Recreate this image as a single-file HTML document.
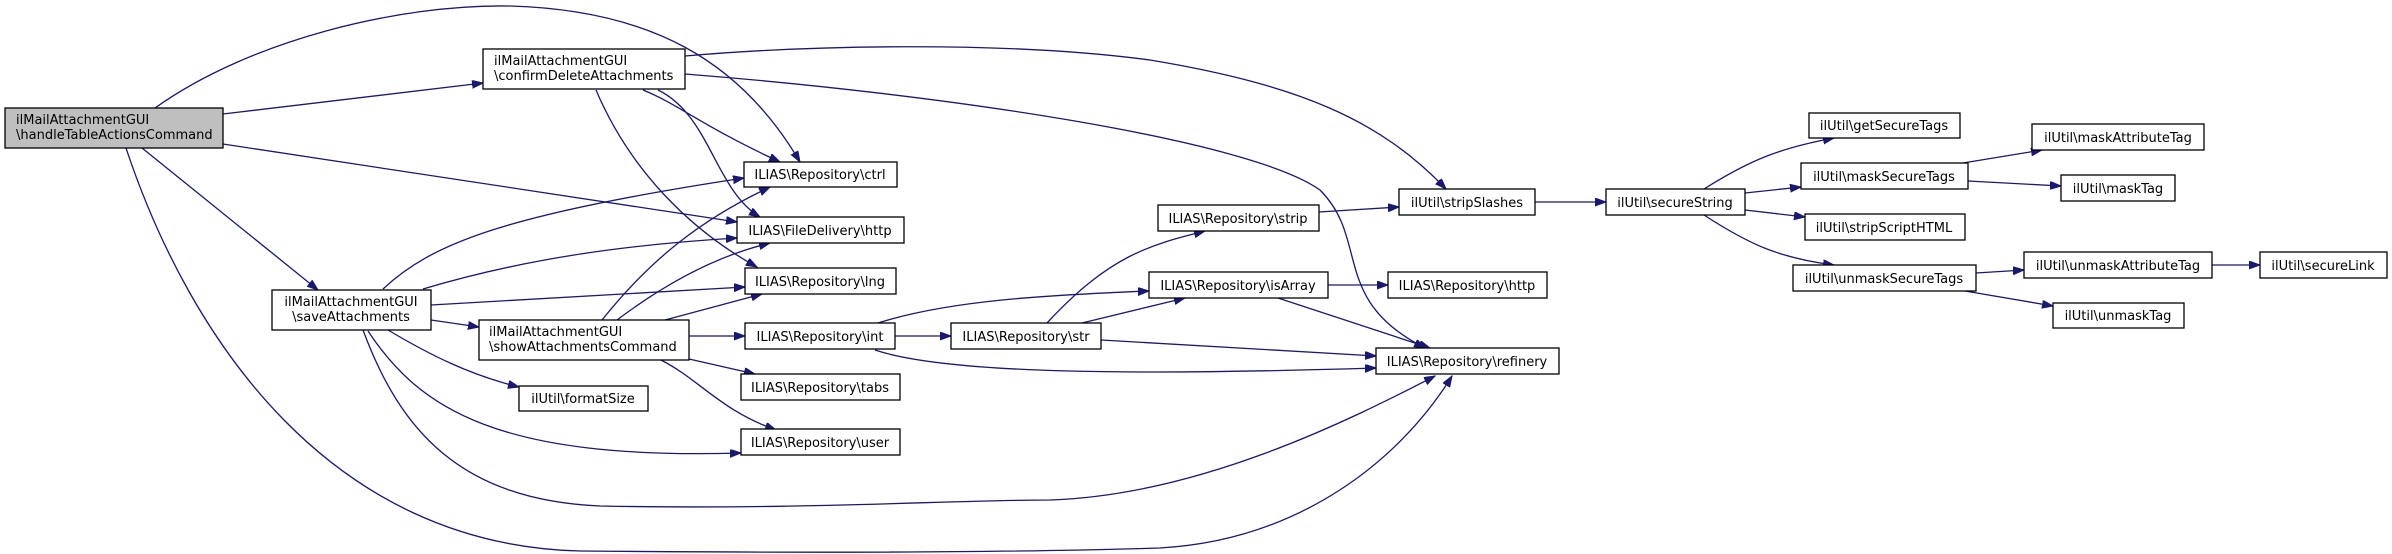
<!DOCTYPE html>
<html><head><meta charset="utf-8"><style>
html,body{margin:0;padding:0;background:#fff;}
svg{display:block;}
text{font-family:"DejaVu Sans","Liberation Sans",sans-serif;font-size:13px;fill:#000;}
.e{fill:none;stroke:#191970;stroke-width:1.3;marker-end:url(#a);}
.n{fill:#fff;stroke:#000;stroke-width:1.3;}
</style></head><body>
<svg width="2392" height="554" viewBox="0 0 2392 554" xmlns="http://www.w3.org/2000/svg">
<defs><marker id="a" markerUnits="userSpaceOnUse" markerWidth="12" markerHeight="10" refX="11" refY="4" orient="auto"><path d="M0,0 L11,4 L0,8 Z" fill="#191970" stroke="#191970"/></marker></defs>
<!-- edges -->
<path class="e" d="M155,108 C250,40 400,4 510,6 C650,10 740,60 800,162"/>
<path class="e" d="M223,114 L483,83"/>
<path class="e" d="M223,144 L737,222"/>
<path class="e" d="M142,148 L318,290"/>
<path class="e" d="M126,148 C190,340 330,545 580,551 C800,553 1000,553 1160,548 C1300,540 1400,460 1452,376"/>
<path class="e" d="M685,56 C800,46 1000,40 1150,60 C1300,85 1380,120 1446,189"/>
<path class="e" d="M685,74 C950,95 1250,140 1320,190 C1370,240 1330,300 1425,348"/>
<path class="e" d="M643,90 C680,105 700,125 780,162"/>
<path class="e" d="M658,90 C710,115 715,190 760,217"/>
<path class="e" d="M596,90 C630,170 690,230 757,267"/>
<path class="e" d="M383,289 C430,245 500,215 744,178"/>
<path class="e" d="M423,289 C520,260 620,245 737,238"/>
<path class="e" d="M431,305 L745,287"/>
<path class="e" d="M431,320 L479,327"/>
<path class="e" d="M388,330 C430,355 470,375 519,387"/>
<path class="e" d="M368,331 C420,410 500,460 741,453"/>
<path class="e" d="M363,330 C400,430 460,500 600,506 C800,510 950,500 1050,500 C1200,495 1350,420 1435,376"/>
<path class="e" d="M602,320 C650,260 700,220 770,187"/>
<path class="e" d="M617,320 C670,280 720,255 770,243"/>
<path class="e" d="M665,320 L762,294"/>
<path class="e" d="M689,336 L745,336"/>
<path class="e" d="M689,359 L755,374"/>
<path class="e" d="M661,360 C700,380 720,410 776,430"/>
<path class="e" d="M895,336 L951,336"/>
<path class="e" d="M878,323 C950,300 1050,295 1149,291"/>
<path class="e" d="M875,350 C950,375 1150,375 1376,368"/>
<path class="e" d="M1047,323 C1110,255 1150,245 1205,231"/>
<path class="e" d="M1082,323 L1185,298"/>
<path class="e" d="M1101,340 L1376,356"/>
<path class="e" d="M1319,212 L1399,207"/>
<path class="e" d="M1328,285 L1388,285"/>
<path class="e" d="M1278,298 L1430,348"/>
<path class="e" d="M1535,202 L1606,202"/>
<path class="e" d="M1704,189 C1750,160 1780,148 1834,138"/>
<path class="e" d="M1745,193 L1801,187"/>
<path class="e" d="M1745,210 L1805,217"/>
<path class="e" d="M1704,215 C1750,245 1780,258 1834,265"/>
<path class="e" d="M1963,163 L2042,150"/>
<path class="e" d="M1968,181 L2061,186"/>
<path class="e" d="M1976,273 L2024,270"/>
<path class="e" d="M1965,291 L2053,306"/>
<path class="e" d="M2212,265 L2260,265"/>
<!-- nodes -->
<rect x="5" y="108" width="218" height="40" fill="#bfbfbf" stroke="#000" stroke-width="1.3"/>
<text x="16" y="124">ilMailAttachmentGUI</text><text x="16" y="139">\handleTableActionsCommand</text>
<rect class="n" x="483" y="49" width="202" height="40"/>
<text x="494" y="65">ilMailAttachmentGUI</text><text x="494" y="80">\confirmDeleteAttachments</text>
<rect class="n" x="272" y="290" width="159" height="40"/>
<text x="351" y="306" text-anchor="middle">ilMailAttachmentGUI</text><text x="351" y="321" text-anchor="middle">\saveAttachments</text>
<rect class="n" x="479" y="320" width="210" height="40"/>
<text x="489" y="336">ilMailAttachmentGUI</text><text x="489" y="351">\showAttachmentsCommand</text>
<rect class="n" x="519" y="386" width="129" height="25"/><text x="583" y="403" text-anchor="middle">ilUtil\formatSize</text>
<rect class="n" x="744" y="162" width="153" height="25"/><text x="820" y="179" text-anchor="middle">ILIAS\Repository\ctrl</text>
<rect class="n" x="737" y="217" width="167" height="26"/><text x="820" y="235" text-anchor="middle">ILIAS\FileDelivery\http</text>
<rect class="n" x="745" y="268" width="151" height="26"/><text x="820" y="286" text-anchor="middle">ILIAS\Repository\lng</text>
<rect class="n" x="745" y="323" width="150" height="26"/><text x="820" y="341" text-anchor="middle">ILIAS\Repository\int</text>
<rect class="n" x="741" y="374" width="159" height="26"/><text x="820" y="392" text-anchor="middle">ILIAS\Repository\tabs</text>
<rect class="n" x="741" y="429" width="159" height="26"/><text x="820" y="447" text-anchor="middle">ILIAS\Repository\user</text>
<rect class="n" x="951" y="323" width="150" height="26"/><text x="1026" y="341" text-anchor="middle">ILIAS\Repository\str</text>
<rect class="n" x="1158" y="205" width="161" height="26"/><text x="1238" y="223" text-anchor="middle">ILIAS\Repository\strip</text>
<rect class="n" x="1149" y="272" width="179" height="26"/><text x="1238" y="290" text-anchor="middle">ILIAS\Repository\isArray</text>
<rect class="n" x="1388" y="272" width="159" height="26"/><text x="1467" y="290" text-anchor="middle">ILIAS\Repository\http</text>
<rect class="n" x="1376" y="348" width="183" height="26"/><text x="1467" y="366" text-anchor="middle">ILIAS\Repository\refinery</text>
<rect class="n" x="1399" y="189" width="136" height="26"/><text x="1467" y="207" text-anchor="middle">ilUtil\stripSlashes</text>
<rect class="n" x="1606" y="189" width="139" height="26"/><text x="1675" y="207" text-anchor="middle">ilUtil\secureString</text>
<rect class="n" x="1809" y="113" width="151" height="25"/><text x="1884" y="130" text-anchor="middle">ilUtil\getSecureTags</text>
<rect class="n" x="1801" y="163" width="167" height="26"/><text x="1884" y="181" text-anchor="middle">ilUtil\maskSecureTags</text>
<rect class="n" x="1805" y="214" width="160" height="26"/><text x="1884" y="232" text-anchor="middle">ilUtil\stripScriptHTML</text>
<rect class="n" x="1793" y="265" width="183" height="26"/><text x="1884" y="283" text-anchor="middle">ilUtil\unmaskSecureTags</text>
<rect class="n" x="2032" y="124" width="172" height="26"/><text x="2118" y="142" text-anchor="middle">ilUtil\maskAttributeTag</text>
<rect class="n" x="2061" y="175" width="114" height="26"/><text x="2118" y="193" text-anchor="middle">ilUtil\maskTag</text>
<rect class="n" x="2024" y="252" width="188" height="26"/><text x="2118" y="270" text-anchor="middle">ilUtil\unmaskAttributeTag</text>
<rect class="n" x="2260" y="252" width="127" height="26"/><text x="2323" y="270" text-anchor="middle">ilUtil\secureLink</text>
<rect class="n" x="2053" y="303" width="131" height="25"/><text x="2118" y="320" text-anchor="middle">ilUtil\unmaskTag</text>
</svg>
</body></html>
